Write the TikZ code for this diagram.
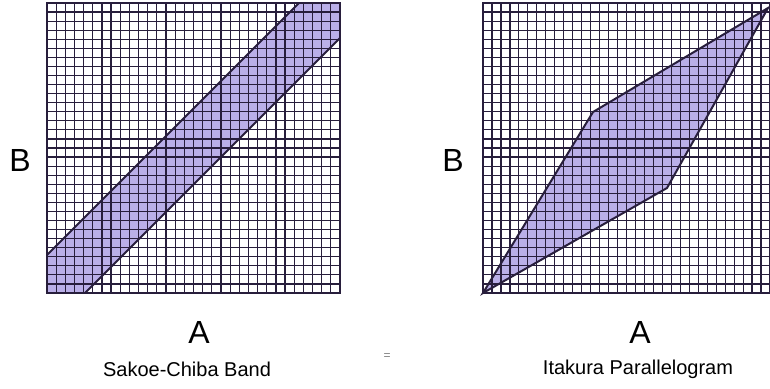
\documentclass[tikz,border=0pt]{standalone}
\usepackage{fontspec}
\setmainfont{Liberation Sans}
\usetikzlibrary{positioning}
\definecolor{gridink}{RGB}{40, 30, 60}
\definecolor{bandfill}{RGB}{186, 175, 232}
\tikzset{
  gridline/.style={draw=gridink, line width=0.6pt},
  frame/.style={draw=gridink, line width=1.2pt},
  region/.style={fill=bandfill, draw=none},
  bound/.style={draw=gridink, line width=1pt},
  axislabel/.style={font=\fontsize{16}{16}\selectfont, inner sep=0pt},
  caption/.style={font=\fontsize{10}{12}\selectfont, inner sep=0pt},
}

\begin{document}
\begin{tikzpicture}[x=0.5pt, y=0.5pt]
  \useasboundingbox (0,0) rectangle (770,388);

  % Sakoe-Chiba band
  \coordinate (sbl) at (47,95);
  \coordinate (str) at (340,385);
  \fill[region] (47,95) -- (85,95) -- (340,350) -- (340,385) -- (299,385) -- (47,133) -- cycle;
  \foreach \i in {0,...,32} {
    \draw[gridline] ({47+\i*293/32},95) -- ({47+\i*293/32},385);
    \draw[gridline] (47,{95+\i*290/32}) -- (340,{95+\i*290/32});
  }
  \draw[frame] (sbl) rectangle (str);
  \draw[bound] (47,133) -- (299,385);
  \draw[bound] (85,95) -- (340,350);

  % Itakura parallelogram
  \coordinate (ibl) at (483,95);
  \coordinate (itr) at (770,385);
  \coordinate (iul) at (593,276);
  \coordinate (ilr) at (667,200);
  \coordinate (ine) at (768,380);
  \fill[region] (ibl) -- (iul) -- (ine) -- (ilr) -- cycle;
  \foreach \i in {0,...,32} {
    \draw[gridline] ({483+\i*287/32},95) -- ({483+\i*287/32},385);
    \draw[gridline] (483,{95+\i*290/32}) -- (770,{95+\i*290/32});
  }
  \draw[frame] (ibl) rectangle (itr);
  \draw[bound] (ibl) -- (iul) -- (ine) -- (ilr) -- cycle;

  % Labels
  \node[axislabel] (sb)  at (20,228)  {B};
  \node[axislabel] (sa)  at (199,56)  {A};
  \node[caption]   (scap) at (187,19) {Sakoe-Chiba Band};
  \node[axislabel] (ib)  at (453,228) {B};
  \node[axislabel] (ia)  at (640,56)  {A};
  \node[caption]   (icap) at (638,19) {Itakura Parallelogram};
  \node[font=\fontsize{6}{6}\selectfont, text=gray, inner sep=0pt] (mark) at (387,31) {=};

\end{tikzpicture}
\end{document}
